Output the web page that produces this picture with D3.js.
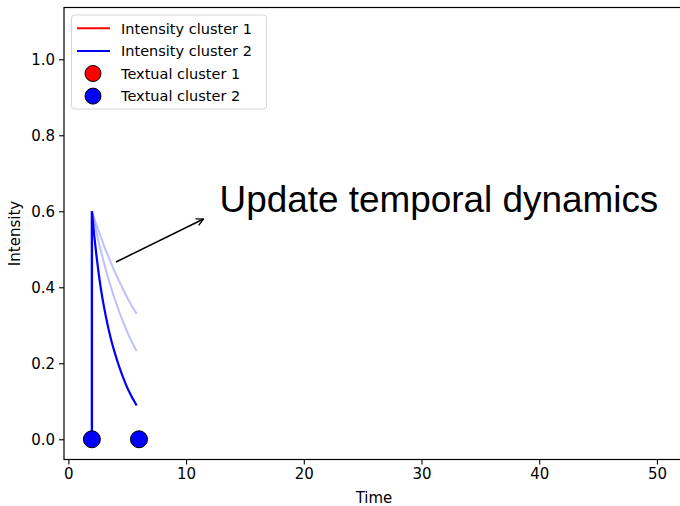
<!DOCTYPE html>
<html>
<head>
<meta charset="utf-8">
<script src="https://cdn.jsdelivr.net/npm/d3@7"></script>
<style>
  html, body { margin: 0; padding: 0; background: #fff; }
  svg { display: block; font-family: "DejaVu Sans", sans-serif; }
</style>
</head>
<body>
<svg id="chart" width="680" height="506"></svg>
<script>
// Sample times for the decaying intensity curves
const times = [2.0, 2.2, 2.4, 2.6, 2.8, 3.0, 3.2, 3.4, 3.6, 3.8,
               4.0, 4.2, 4.4, 4.6, 4.8, 5.0, 5.2, 5.4, 5.6, 5.8];
// Current intensity of cluster 2
const intensityCluster2 = [0.600, 0.536, 0.480, 0.431, 0.389, 0.353, 0.321, 0.292, 0.266, 0.243,
                           0.222, 0.202, 0.184, 0.167, 0.151, 0.136, 0.123, 0.111, 0.100, 0.089];
// Earlier (faded) estimates of the same curve
const ghostIntensityA = [0.600, 0.581, 0.563, 0.546, 0.529, 0.512, 0.496, 0.481, 0.466, 0.451,
                         0.437, 0.424, 0.411, 0.398, 0.385, 0.373, 0.362, 0.350, 0.340, 0.330];
const ghostIntensityB = [0.600, 0.571, 0.543, 0.516, 0.491, 0.467, 0.444, 0.423, 0.402, 0.382,
                         0.364, 0.346, 0.329, 0.313, 0.298, 0.283, 0.269, 0.256, 0.244, 0.232];
// Event onset (intensity jumps from 0 at this time)
const onsetTime = 2;
const onsetBase = 0;
// Textual cluster 2 events
const eventTimes = [2, 6];
const eventValues = [0, 0];
// Axis ticks
const xTicks = [0, 10, 20, 30, 40, 50];
const yTicks = [0.0, 0.2, 0.4, 0.6, 0.8, 1.0];
const legendItems = [
  { label: "Intensity cluster 1", kind: "line", color: "#ff0000" },
  { label: "Intensity cluster 2", kind: "line", color: "#0000ff" },
  { label: "Textual cluster 1", kind: "dot", color: "#ff0000" },
  { label: "Textual cluster 2", kind: "dot", color: "#0000ff" }
];
const annotation = "Update temporal dynamics";

const svg = d3.select("#chart");
const plotL = 64, plotR = 684, plotT = 7.5, plotB = 459.5;

const x = d3.scaleLinear().domain([-0.37, 52.3]).range([plotL, plotR]);
const y = d3.scaleLinear().domain([-0.0532, 1.1363]).range([plotB, plotT]);

const plot = svg.append("g");

const smooth = d3.line().x(d => x(d[0])).y(d => y(d[1])).curve(d3.curveMonotoneX);
const straight = d3.line().x(d => x(d[0])).y(d => y(d[1]));

// faded earlier curves
[ghostIntensityA, ghostIntensityB].forEach(vals => {
  plot.append("path")
    .datum(times.map((t, i) => [t, vals[i]]))
    .attr("d", smooth)
    .attr("fill", "none")
    .attr("stroke", "#0000ff")
    .attr("stroke-opacity", 0.25)
    .attr("stroke-width", 2);
});

// current curve: jump at onset, then decay
plot.append("path")
  .datum([[onsetTime, onsetBase], [times[0], intensityCluster2[0]]])
  .attr("d", straight)
  .attr("fill", "none")
  .attr("stroke", "#0000ff")
  .attr("stroke-width", 2.4);
plot.append("path")
  .datum(times.map((t, i) => [t, intensityCluster2[i]]))
  .attr("d", smooth)
  .attr("fill", "none")
  .attr("stroke", "#0000ff")
  .attr("stroke-width", 2.2)
  .attr("stroke-linejoin", "round");

// event markers
plot.selectAll("circle.ev")
  .data(eventTimes.map((t, i) => [t, eventValues[i]]))
  .join("circle")
  .attr("class", "ev")
  .attr("cx", d => x(d[0]))
  .attr("cy", d => y(d[1]))
  .attr("r", 8.5)
  .attr("fill", "#0000ff")
  .attr("stroke", "#000")
  .attr("stroke-width", 1);

// axes
const xAxis = d3.axisBottom(x).tickValues(xTicks).tickFormat(d3.format("d"))
  .tickSize(5).tickPadding(3.5);
const yAxis = d3.axisLeft(y).tickValues(yTicks).tickFormat(d3.format(".1f"))
  .tickSize(5).tickPadding(4);

const gx = svg.append("g").attr("transform", `translate(0,${plotB})`).call(xAxis);
const gy = svg.append("g").attr("transform", `translate(${plotL},0)`).call(yAxis);
[gx, gy].forEach(g => {
  g.select(".domain").remove();
  g.selectAll(".tick line").attr("stroke", "#000").attr("stroke-width", 1.1);
  g.selectAll(".tick text").attr("fill", "#000")
    .style("font-family", "'DejaVu Sans', sans-serif").style("font-size", "15px");
});

// frame
svg.append("rect")
  .attr("x", plotL).attr("y", plotT)
  .attr("width", plotR - plotL).attr("height", plotB - plotT)
  .attr("fill", "none").attr("stroke", "#000").attr("stroke-width", 1.2);

// axis titles
svg.append("text")
  .attr("x", (plotL + plotR) / 2).attr("y", 503)
  .attr("text-anchor", "middle")
  .style("font-size", "15px")
  .text("Time");
svg.append("text")
  .attr("transform", `translate(20,${(plotT + plotB) / 2}) rotate(-90)`)
  .attr("text-anchor", "middle")
  .style("font-size", "15px")
  .text("Intensity");

// legend
const lg = svg.append("g");
lg.append("rect")
  .attr("x", 71.5).attr("y", 15).attr("width", 195).attr("height", 94)
  .attr("rx", 3).attr("fill", "#fff").attr("fill-opacity", 0.8)
  .attr("stroke", "#d6d6d6").attr("stroke-width", 1);
legendItems.forEach((item, i) => {
  const cy = 28.3 + i * 22.6;
  if (item.kind === "line") {
    lg.append("line").attr("x1", 77).attr("x2", 110).attr("y1", cy).attr("y2", cy)
      .attr("stroke", item.color).attr("stroke-width", 2);
  } else {
    lg.append("circle").attr("cx", 93).attr("cy", cy).attr("r", 8)
      .attr("fill", item.color).attr("stroke", "#000").attr("stroke-width", 1);
  }
  lg.append("text").attr("x", 121).attr("y", cy + 5.2)
    .style("font-size", "14.5px").text(item.label);
});

// annotation arrow
const defs = svg.append("defs");
defs.append("marker")
  .attr("id", "head").attr("viewBox", "0 0 10 10")
  .attr("refX", 9).attr("refY", 5)
  .attr("markerWidth", 9).attr("markerHeight", 9)
  .attr("markerUnits", "userSpaceOnUse")
  .attr("orient", "auto")
  .append("path").attr("d", "M1,1 L9,5 L1,9")
  .attr("fill", "none").attr("stroke", "#000").attr("stroke-width", 1.4);

svg.append("line")
  .attr("x1", 116).attr("y1", 262).attr("x2", 203.5).attr("y2", 219)
  .attr("stroke", "#000").attr("stroke-width", 1.5)
  .attr("marker-end", "url(#head)");

svg.append("text")
  .attr("x", 219.5).attr("y", 212)
  .style("font-family", "'Liberation Sans', Arial, sans-serif")
  .style("font-size", "36.9px")
  .text(annotation);
</script>
</body>
</html>
